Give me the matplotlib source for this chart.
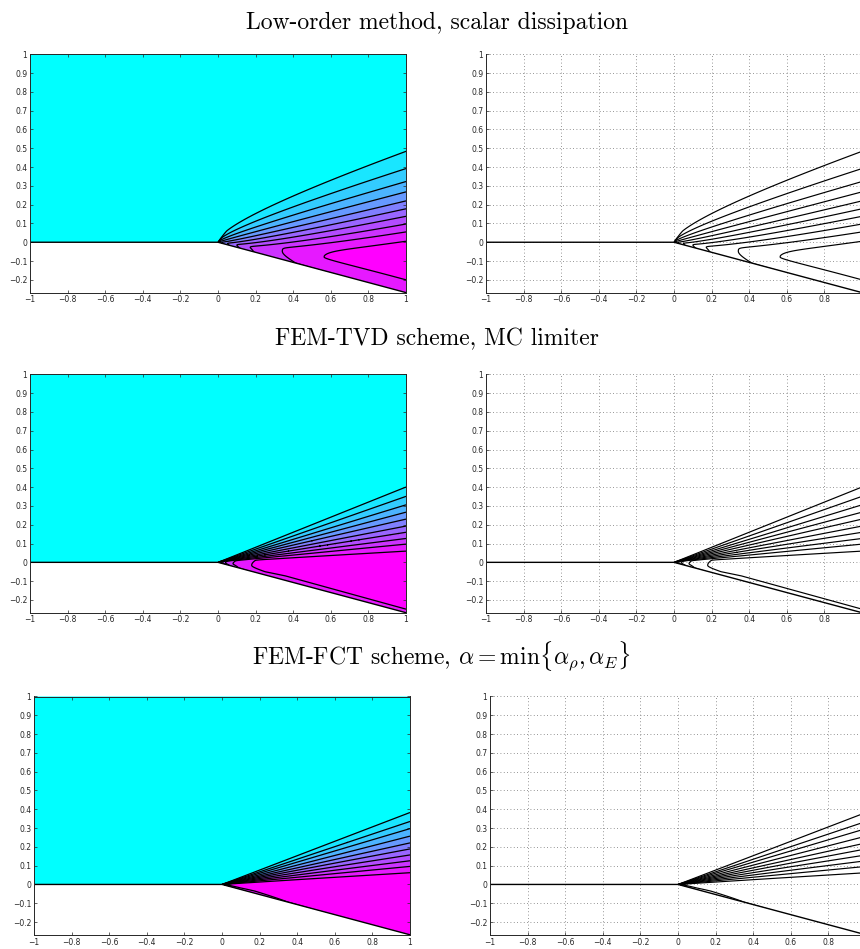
import numpy as np
import matplotlib.pyplot as plt
from matplotlib.patches import Polygon
from matplotlib.ticker import FuncFormatter

plt.rcParams['mathtext.fontset'] = 'cm'
plt.rcParams['font.family'] = 'DejaVu Sans'

W, H = 860, 949
TAN15 = np.tan(np.radians(15.0))

titles = ["Low-order method, scalar dissipation",
          "FEM-TVD scheme, MC limiter",
          r"FEM-FCT scheme, $\alpha = \min\{\alpha_\rho, \alpha_E\}$"]

levels = np.arange(1, 11)

# domain boundary: flat plate, then the 15 degree corner
wall_x = np.array([-1.0, 0.0, 1.0])
wall_y = np.array([0.0, 0.0, -TAN15])

# y where contours 1..10 cut the right edge x = 1 (upper branches)
lo_edge = [0.484, 0.392, 0.323, 0.268, 0.220, 0.178, 0.138, 0.097, 0.055, 0.008]
tvd_edge = [0.401, 0.351, 0.306, 0.267, 0.230, 0.193, 0.160, 0.127, 0.097, 0.061]
fct_edge = [0.383, 0.335, 0.297, 0.257, 0.221, 0.189, 0.157, 0.126, 0.096, 0.064]

# lower branch of contour 10 at x = 1
lo_low = -0.200
tvd_low = -0.249

# outer contour of the low-order run at a few x
lo_top_x = [0.2, 0.4, 0.6, 1.0]
lo_top_y = [0.150, 0.250, 0.330, 0.484]

# x where each level first appears (nose) and crest value further out
lo_peak_x = [0.001, 0.002, 0.004, 0.008, 0.02, 0.05, 0.10, 0.17, 0.342, 0.564, 1.0]
lo_peak_v = [1, 2, 3, 4, 5, 6, 7, 8, 9, 10, 10.2]
tvd_peak_x = [0.001, 0.002, 0.004, 0.006, 0.010, 0.015, 0.025, 0.04, 0.08, 0.179, 0.25, 1.0]
tvd_peak_v = [1, 2, 3, 4, 5, 6, 7, 8, 9, 10, 10.4, 10.5]
fct_peak_x = [0.0005, 0.001, 0.0015, 0.002, 0.003, 0.005, 0.008, 0.011, 0.015, 0.02, 0.1, 1.0]
fct_peak_v = [1, 2, 3, 4, 5, 6, 7, 8, 9, 10, 10.45, 10.5]

# x where each level reaches the wall, and wall value further out
lo_wall_x = [0.0015, 0.003, 0.006, 0.011, 0.026, 0.058, 0.115, 0.19, 0.413, 1.0]
lo_wall_v = [1, 2, 3, 4, 5, 6, 7, 8, 9, 9.3]
tvd_wall_x = [0.0015, 0.003, 0.005, 0.008, 0.013, 0.02, 0.035, 0.06, 0.11, 0.25, 1.0]
tvd_wall_v = [1, 2, 3, 4, 5, 6, 7, 8, 9, 9.35, 9.5]
fct_wall_x = [0.001, 0.002, 0.003, 0.004, 0.006, 0.009, 0.013, 0.018, 0.03, 0.35, 1.0]
fct_wall_v = [1, 2, 3, 4, 5, 6, 7, 8, 9, 10, 10.3]

# fit the curved outer contour of the low-order run: y = a x + b sqrt(x)
A = np.c_[lo_top_x, np.sqrt(lo_top_x)]
lo_a, lo_b = np.linalg.lstsq(A, np.array(lo_top_y), rcond=None)[0]


def wall_gap(low, peak_v, wall_v):
    # slope gap between wall and crest at x = 1, from the lower branch of level 10
    p1, w1 = peak_v[-1], wall_v[-1]
    return (low + TAN15) / (1 - np.sqrt((p1 - 10) / (p1 - w1)))


def field(X, Y, edge, t, q, gap, peak_x, peak_v, wall_x_, wall_v, vp_range, thick, K):
    xp = np.maximum(X, 1e-6)
    # smeared fan: contours y = t x + z_k x^q
    z = (Y - t * xp) / xp ** q
    zk = np.array(edge) - t
    fan = np.interp(z, np.r_[zk[::-1], zk[0] + gap], np.r_[levels[::-1], 0])
    fan = np.where(z < zk[-1], 10 + (zk[-1] - z) / (zk[-2] - zk[-1]), fan)
    # crest along a ray near the wall, growing away from the corner
    v = Y / xp
    vw = -TAN15
    vp = vw + np.minimum(vp_range, thick / xp)
    p = np.interp(xp, [0] + peak_x, [0] + peak_v)
    w = np.interp(xp, [0] + wall_x_, [0] + wall_v)
    kx = K * (p / peak_v[-1]) ** 2
    c_up = p - kx * (v - vp) ** 2
    c_lo = p - (p - w) * (1 - (v - vw) / (vp - vw)) ** 2
    c = np.where(v < vp, c_lo, c_up)
    tau = 0.08
    m = np.minimum(fan, c)
    f = m - tau * np.log1p(np.exp(-np.abs(fan - c) / tau))
    f = np.where(X <= 0, 0.0, f)
    return np.clip(f, -0.5, None)


xs = np.linspace(-1, 1, 1201)
ys = np.linspace(-0.3, 1, 781)
X, Y = np.meshgrid(xs, ys)

lo_gap = wall_gap(lo_low, lo_peak_v, lo_wall_v)
tvd_gap = wall_gap(tvd_low, tvd_peak_v, tvd_wall_v)

fields = [
    field(X, Y, lo_edge, lo_a, 0.5, 0.03, lo_peak_x, lo_peak_v, lo_wall_x, lo_wall_v,
          lo_gap, np.inf, 7.0),
    field(X, Y, tvd_edge, 0.0, 1.0, 0.02, tvd_peak_x, tvd_peak_v, tvd_wall_x, tvd_wall_v,
          0.18, tvd_gap, 6.0),
    field(X, Y, fct_edge, 0.0, 1.0, 0.02, fct_peak_x, fct_peak_v, fct_wall_x, fct_wall_v,
          0.20, 0.035, 5.0),
]

band_colors = plt.get_cmap('cool')(np.linspace(0, 1, 11))
fill_levels = [-1] + list(levels) + [11]

dom = np.c_[[-1, -1, 0, 1, 1], [1, 0, 0, -TAN15, 1]]

row_top = [54.3, 374.4, 696.5]
row_shift = [0, 0, 4]
title_base = [29.5, 345.0, 664.0]
ax_w, ax_h = 376 / W, 238.3 / H


def tick_fmt(v, pos):
    if abs(v) < 1e-9:
        return '0'
    return ('%g' % round(v, 2)).replace('-', '\u2212')


def style(ax, box):
    ax.set_xlim(-1, 1)
    ax.set_ylim(-TAN15, 1)
    xmax = 1.01 if box else 0.81
    ax.set_xticks(np.round(np.arange(-1, xmax, 0.2), 2))
    ax.set_yticks(np.round(np.arange(-0.2, 1.01, 0.1), 2))
    ax.xaxis.set_major_formatter(FuncFormatter(tick_fmt))
    ax.yaxis.set_major_formatter(FuncFormatter(tick_fmt))
    ax.tick_params(direction='in', length=2.5, width=0.5, labelsize=5.5, pad=2,
                   top=box, right=box, colors='0.15')
    for s in ax.spines.values():
        s.set_linewidth(0.7)
        s.set_color('0.15')
    if not box:
        ax.spines['top'].set_visible(False)
        ax.spines['right'].set_visible(False)


fig = plt.figure(figsize=(W / 100, H / 100), dpi=100)

for i, f in enumerate(fields):
    sh = row_shift[i]
    bottom = 1 - (row_top[i] + 238.3) / H

    axL = fig.add_axes([(30 + sh) / W, bottom, ax_w, ax_h])
    cs = axL.contourf(X, Y, f, levels=fill_levels, colors=band_colors)
    cl = axL.contour(X, Y, f, levels=levels, colors='k', linewidths=0.9)
    clipL = Polygon(dom, closed=True, transform=axL.transData)
    cs.set_clip_path(clipL)
    cl.set_clip_path(clipL)
    axL.plot(wall_x, wall_y, color='k', lw=1.0)
    style(axL, True)

    axR = fig.add_axes([(486 + sh) / W, bottom, ax_w, ax_h])
    axR.grid(True, linestyle=(0, (1, 3)), color='0.45', lw=0.6)
    axR.set_axisbelow(True)
    cr = axR.contour(X, Y, f, levels=levels, colors='k', linewidths=0.85)
    clipR = Polygon(dom, closed=True, transform=axR.transData)
    cr.set_clip_path(clipR)
    axR.plot(wall_x, wall_y, color='k', lw=1.0)
    style(axR, False)

    fig.text((437 + sh) / W, 1 - title_base[i] / H, titles[i],
             ha='center', va='baseline', fontsize=17, family='cmr10')

fig.savefig('out.png', dpi=100)
